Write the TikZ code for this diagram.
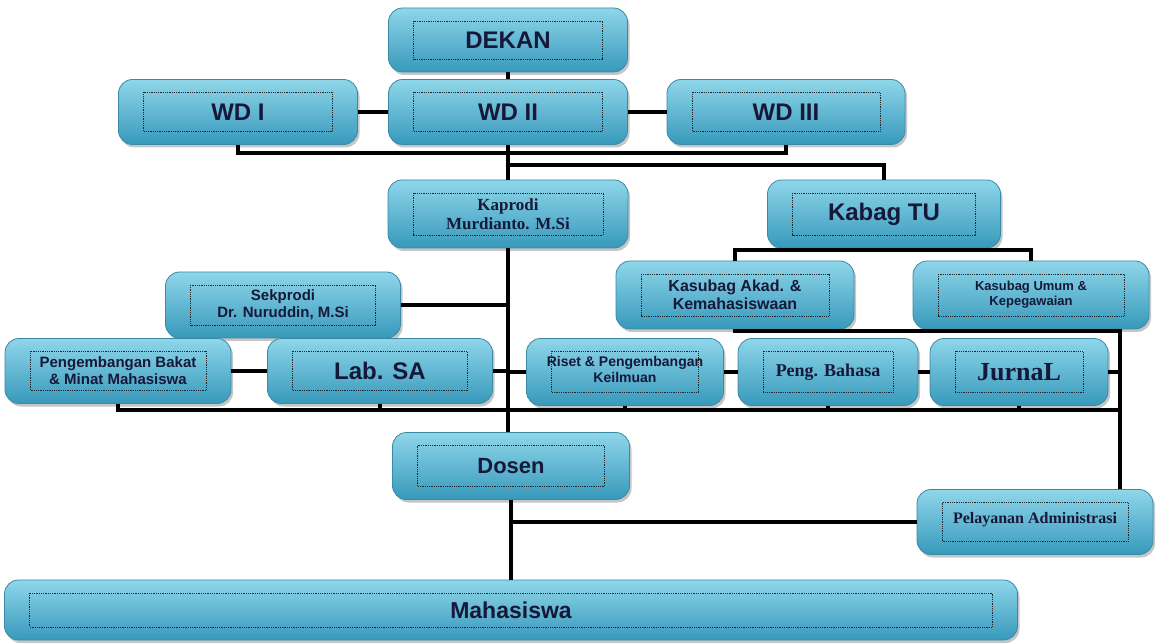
\documentclass[tikz,border=0pt]{standalone}
\usepackage{fontspec}
\setmainfont{Liberation Sans}
\newfontfamily\hurufserif{Liberation Serif}
\usetikzlibrary{shadows}
\definecolor{kotakatas}{HTML}{8FD6EA}
\definecolor{kotaktengah}{HTML}{58B8D4}
\definecolor{kotakbawah}{HTML}{3799BB}
\definecolor{tepi}{HTML}{3A8AA4}
\definecolor{teks}{HTML}{16183A}
\begin{document}
\begin{tikzpicture}[x=1pt, y=-1pt,
  kotak/.style={rounded corners=14pt, draw=tepi, line width=0.8pt,
    top color=kotakatas, middle color=kotaktengah, bottom color=kotakbawah,
    drop shadow={shadow xshift=2pt, shadow yshift=-3pt, fill=black!50, opacity=0.45},
    text=teks, align=center, inner sep=0pt,
    path picture={\draw[sharp corners, densely dotted, line width=0.8pt, black!85]
      ([shift={(25pt,-13pt)}]path picture bounding box.north west) rectangle
      ([shift={(-25pt,13pt)}]path picture bounding box.south east);}},
  besar/.style={font=\bfseries\fontsize{24}{26}\selectfont},
  sedang/.style={font=\bfseries\fontsize{15}{17}\selectfont},
  kecil/.style={font=\bfseries\fontsize{13}{15}\selectfont},
  serif/.style={font=\hurufserif\bfseries\fontsize{#1}{#1}\selectfont},
  garis/.style={line width=4.5pt}]
\useasboundingbox (0,0) rectangle (1157,644);

% pimpinan
\node[kotak, besar, minimum width=239, minimum height=64] (dekan) at (508,40) {DEKAN};
\node[kotak, besar, minimum width=239, minimum height=65] (wd1) at (238,112) {WD I};
\node[kotak, besar, minimum width=239, minimum height=65] (wd2) at (508,112) {WD II};
\node[kotak, besar, minimum width=238, minimum height=65] (wd3) at (786,112) {WD III};

% prodi dan tata usaha
\node[kotak, serif=17, minimum width=240, minimum height=68] (kaprodi) at (508,214) {Kaprodi\\[2pt]Murdianto. M.Si};
\node[kotak, besar, minimum width=233, minimum height=68] (kabag) at (884,214) {Kabag TU};
\node[kotak, font=\bfseries\fontsize{16}{18}\selectfont, minimum width=238, minimum height=68] (akad) at (735,295) {Kasubag Akad. \&\\Kemahasiswaan};
\node[kotak, kecil, minimum width=236, minimum height=68] (umum) at (1031,295) {Kasubag Umum \&\\Kepegawaian};
\node[kotak, sedang, minimum width=235, minimum height=66] (sekprodi) at (283,305) {Sekprodi\\Dr. Nuruddin, M.Si};

% unit di bawah prodi
\node[kotak, sedang, minimum width=226, minimum height=65] (pbm) at (118,371) {Pengembangan Bakat\\\& Minat Mahasiswa};
\node[kotak, besar, minimum width=225, minimum height=65] (lab) at (380,371) {Lab. SA};
\node[kotak, font=\bfseries\fontsize{14}{16}\selectfont, minimum width=197, minimum height=67] (riset) at (625,372) {\raisebox{5pt}{\shortstack{Riset \& Pengembangan\\Keilmuan}}};
\node[kotak, serif=18, minimum width=180, minimum height=67] (bahasa) at (828,372) {\raisebox{4pt}{Peng. Bahasa}};
\node[kotak, serif=26, minimum width=178, minimum height=67] (jurnal) at (1019,372) {JurnaL};

\node[kotak, font=\bfseries\fontsize{22}{24}\selectfont, minimum width=237, minimum height=67] (dosen) at (511,466) {Dosen};
\node[kotak, serif=16, minimum width=236, minimum height=65] (pelayanan) at (1035,522) {\raisebox{9pt}{Pelayanan Administrasi}};
\node[kotak, font=\bfseries\fontsize{23}{25}\selectfont, minimum width=1013, minimum height=60] (mhs) at (511,610) {Mahasiswa};

% titik bantu garis
\coordinate (bus1) at (508,153);
\coordinate (cab1) at (508,165);
\coordinate (bus2) at (884,250);
\coordinate (bus3) at (1120,331);
\coordinate (bus4) at (1120,410);

% garis hubung
\draw[garis] (dekan) -- (wd2);
\draw[garis] (wd1) -- (wd2);
\draw[garis] (wd2) -- (wd3);
\draw[garis] (wd1.south) |- (bus1) -| (wd3.south);
\draw[garis] (wd2.south) -- (cab1) -| (kabag.north);
\draw[garis] (cab1) -- (kaprodi.north);
\draw[garis] (kabag.south) -- (bus2);
\draw[garis] (akad.north) |- (bus2) -| (umum.north);
\draw[garis] (akad.south) |- (bus3);
\draw[garis] (umum.south -| bus3) -- (pelayanan.north -| bus3);
\draw[garis] (kaprodi.south) -- (kaprodi.south |- dosen.north);
\draw[garis] (sekprodi.east) -- (sekprodi.east -| kaprodi.south);
\draw[garis] (pbm) -- (lab);
\draw[garis] (lab.east) -- (lab.east -| kaprodi.south);
\draw[garis] (riset.west) -- (riset.west -| kaprodi.south);
\draw[garis] (riset) -- (bahasa);
\draw[garis] (bahasa) -- (jurnal);
\draw[garis] (jurnal.east) -- (jurnal.east -| bus3);
\draw[garis] (pbm.south) |- (bus4);
\foreach \n in {lab,riset,bahasa,jurnal}
  {\draw[garis] (\n.south) -- (\n.south |- bus4);}
\draw[garis] (dosen.south) -- (dosen.south |- mhs.north);
\draw[garis] (pelayanan.west) -- (pelayanan.west -| dosen.south);
\end{tikzpicture}
\end{document}
